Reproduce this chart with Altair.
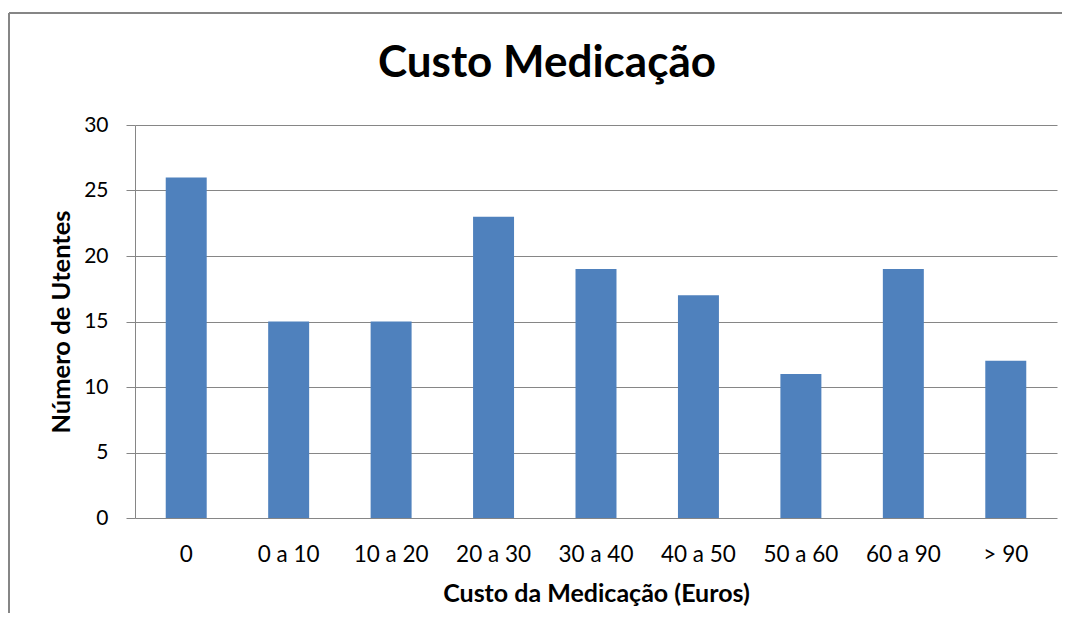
import altair as alt
import pandas as pd

categories = ["0", "0 a 10", "10 a 20", "20 a 30", "30 a 40", "40 a 50", "50 a 60", "60 a 90", "> 90"]
utentes = [26, 15, 15, 23, 19, 17, 11, 19, 12]

df = pd.DataFrame({"cat": categories, "n": utentes})

FONT = "Lato"
GRID = "#868686"

W, H = 922, 393
PL, PT = 127, 117
PR = 1056 - PL - W
PB = 605 - PT - H

bars = alt.Chart(df).mark_bar(color="#4F81BD").encode(
    x=alt.X("cat:N", sort=categories,
            scale=alt.Scale(paddingInner=0.6, paddingOuter=0.3),
            axis=alt.Axis(title="Custo da Medicação (Euros)", labelAngle=0,
                          labelFontSize=22.5, labelColor="black", labelPadding=25,
                          ticks=False, domain=False, titleFontSize=25,
                          titleFontWeight="bold", titlePadding=16, titleColor="black")),
    y=alt.Y("n:Q", scale=alt.Scale(domain=[0, 30]),
            axis=alt.Axis(title="Número de Utentes", values=[0, 5, 10, 15, 20, 25, 30],
                          labelFontSize=21, labelColor="black", labelPadding=18,
                          tickSize=9, tickColor=GRID, domainColor=GRID, gridColor=GRID,
                          titleFontSize=25.5, titleFontWeight="bold", titlePadding=9,
                          titleColor="black")),
)

frame_left = alt.Chart(df).mark_rule(stroke=GRID, strokeWidth=2).encode(
    x=alt.value(-PL + 1), y=alt.value(-PT + 5), y2=alt.value(H + PB),
)
frame_top = alt.Chart(df).mark_rule(stroke=GRID, strokeWidth=2).encode(
    x=alt.value(-PL + 1), x2=alt.value(W + PR - 2), y=alt.value(-PT + 5),
)

chart = alt.layer(frame_left, frame_top, bars).properties(
    width=W, height=H,
    padding={"left": PL, "top": PT, "right": PR, "bottom": PB},
    autosize=alt.AutoSizeParams(type="none"),
    title=alt.TitleParams("Custo Medicação", fontSize=44, fontWeight="bold",
                          font=FONT, color="black", anchor="middle", dx=-49, offset=-74),
).configure(font=FONT).configure_view(stroke=None).configure_axis(
    labelFont=FONT, titleFont=FONT, gridWidth=1, domainWidth=1
)

chart.save("out.html", embed_options={"renderer": "svg", "actions": False})
